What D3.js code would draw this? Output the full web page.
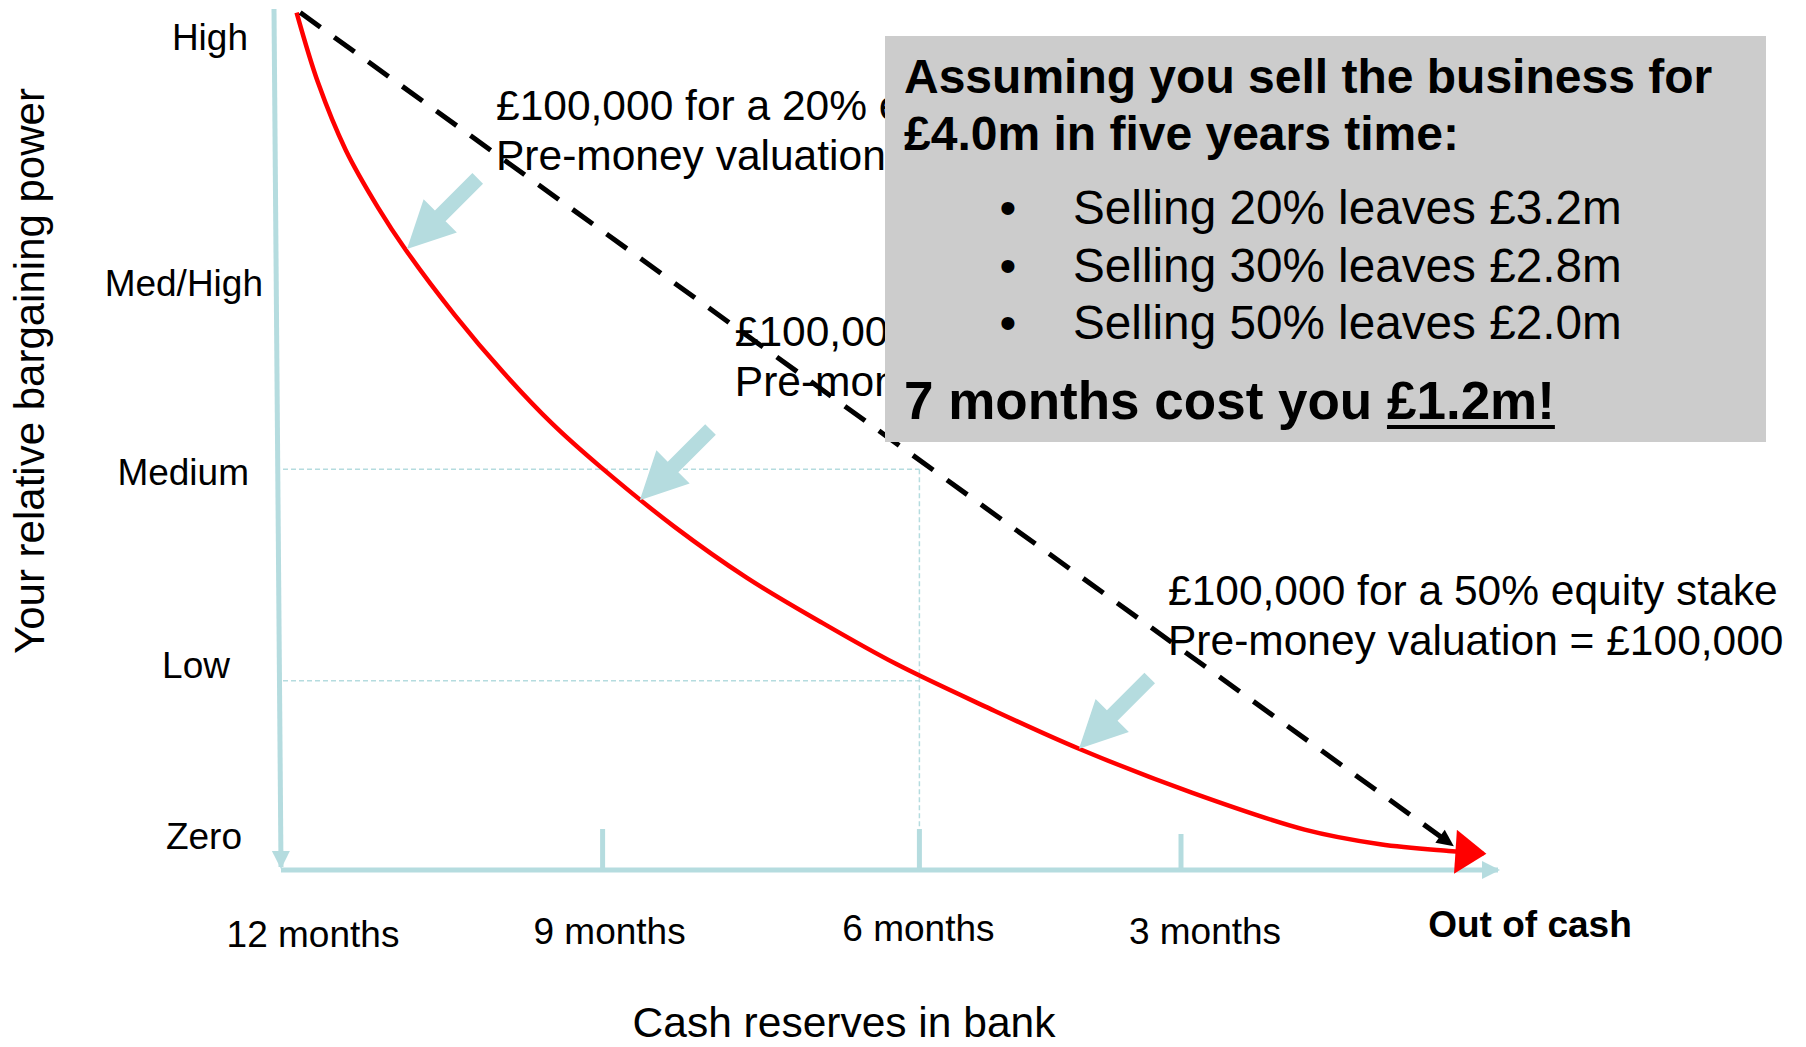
<!DOCTYPE html>
<html lang="en">
<head>
<meta charset="UTF-8">
<title>Bargaining power vs cash reserves</title>
<script src="https://d3js.org/d3.v7.min.js"></script>
<style>
  html, body { margin:0; background:#fff; overflow:hidden; }
  svg { display:block; }
  text { font-family:"Liberation Sans", Arial, sans-serif; fill:#000; }
</style>
</head>
<body>
<svg id="chart" width="1806" height="1047"></svg>
<script>
// y axis: relative bargaining power (0 = zero, 100 = high)
const levels      = ["High", "Med/High", "Medium", "Low", "Zero"];
const levelValues = [96.9, 68.3, 46.3, 23.8, 3.9];
const gridLevels  = [46.6, 22.0];              // dashed guides at Medium and Low

// x axis: cash runway used (0 = 12 months left, 100 = out of cash)
const months   = ["12 months", "9 months", "6 months", "3 months", "Out of cash"];
const monthPos = [0, 26.8, 53.2, 75.0, 100];
const guideAt  = 53.2;                         // 6 months

// red curve, power drops fast as cash runs down
const powerCurve = [
  [1.3, 99.7], [3.1, 91.5], [5.4, 83.7], [8.1, 77.0], [10.4, 72.1],
  [14.5, 64.5], [18.5, 57.9], [22.6, 51.9], [26.6, 46.9], [32.8, 39.9],
  [38.8, 34.0], [44.9, 28.9], [51.2, 24.0], [58.7, 19.0], [66.5, 14.1],
  [75.9, 9.0], [85.3, 4.7], [91.6, 3.0], [97.3, 2.2], [100.2, 1.9]
];
// black dashed, straight line decline
const linearLine = [[1.6, 99.7], [97.6, 2.9]];

// the three offers and where their arrows hit the curve
const dealStakes = ["20%", "30%", "50%"];
const dealPre    = ["£400,000", "£233,333", "£100,000"];
const dealTips   = [[10.5, 72.2], [29.9, 43.0], [66.5, 14.1]];

const boxTitle  = ["Assuming you sell the business for", "£4.0m in five years time:"];
const bullets   = ["Selling 20% leaves £3.2m", "Selling 30% leaves £2.8m", "Selling 50% leaves £2.0m"];
const punchline = ["7 months cost you ", "£1.2m!"];

// layout bits (pixels)
const levelRight = [248, 263, 249, 230, 242];
const monthShift = [32, 7, -1, 24, 49];
const monthBase  = [947, 944, 941, 944, 937];
const dealDx     = [89, 95, 89];
const dealDy     = [-129, -154, -144];
const box        = {x: 885, y: 36, w: 881, h: 406};
const AXIS = "#b5dcdf";

const svg = d3.select("#chart");
const x = d3.scaleLinear().domain([0, 100]).range([281, 1481]);
const y = d3.scaleLinear().domain([0, 100]).range([870, 10]);

const defs = svg.append("defs");
function marker(id, path, refX, color) {
  defs.append("marker")
    .attr("id", id).attr("markerUnits", "userSpaceOnUse")
    .attr("viewBox", "-40 -30 80 60").attr("markerWidth", 80).attr("markerHeight", 60)
    .attr("refX", refX).attr("refY", 0).attr("orient", "auto")
    .append("path").attr("d", path).attr("fill", color);
}
marker("axisHead", "M0,-9L18,0L0,9Z", 16, AXIS);
marker("redHead", "M0,-22L31,0L0,22Z", 28, "#ff0000");
marker("blackHead", "M0,-8L17,0L0,8Z", 15, "#000");

// annotations that run under the grey box get cut at its edge
defs.append("clipPath").attr("id", "leftOfBox")
  .append("rect").attr("x", 0).attr("y", 0).attr("width", box.x).attr("height", 1047);

// axes
svg.append("line")
  .attr("x1", x(0) - 7).attr("y1", 9).attr("x2", x(0)).attr("y2", y(0) - 3)
  .attr("stroke", AXIS).attr("stroke-width", 5).attr("marker-end", "url(#axisHead)");
svg.append("line")
  .attr("x1", x(0)).attr("y1", y(0)).attr("x2", 1498).attr("y2", y(0))
  .attr("stroke", AXIS).attr("stroke-width", 5).attr("marker-end", "url(#axisHead)");

svg.selectAll(".tick")
  .data(monthPos.slice(1, 4))
  .join("line").attr("class", "tick")
  .attr("x1", d => x(d)).attr("x2", d => x(d))
  .attr("y1", y(0)).attr("y2", (d, i) => y(0) - (i === 2 ? 36 : 41))
  .attr("stroke", AXIS).attr("stroke-width", 5);

// dashed guides
svg.selectAll(".grid")
  .data(gridLevels)
  .join("line").attr("class", "grid")
  .attr("x1", x(0) + 2).attr("x2", x(guideAt))
  .attr("y1", d => y(d)).attr("y2", d => y(d))
  .attr("stroke", AXIS).attr("stroke-width", 1.5).attr("stroke-dasharray", "5,3");
svg.append("line")
  .attr("x1", x(guideAt)).attr("x2", x(guideAt))
  .attr("y1", y(gridLevels[0])).attr("y2", y(0) - 41)
  .attr("stroke", AXIS).attr("stroke-width", 1.5).attr("stroke-dasharray", "5,3");

// level labels
svg.selectAll(".lvl")
  .data(levels)
  .join("text").attr("class", "lvl")
  .attr("x", (d, i) => levelRight[i])
  .attr("y", (d, i) => y(levelValues[i]) + 13)
  .attr("text-anchor", "end")
  .style("font-size", "37px")
  .text(d => d);

// month labels
svg.selectAll(".mon")
  .data(months)
  .join("text").attr("class", "mon")
  .attr("x", (d, i) => x(monthPos[i]) + monthShift[i])
  .attr("y", (d, i) => monthBase[i])
  .attr("text-anchor", "middle")
  .style("font-size", "37px")
  .style("font-weight", (d, i) => i === 4 ? "bold" : "normal")
  .text(d => d);

// axis titles
svg.append("text")
  .attr("transform", "translate(44,371) rotate(-90)")
  .attr("text-anchor", "middle")
  .style("font-size", "42px")
  .text("Your relative bargaining power");
svg.append("text")
  .attr("x", 844).attr("y", 1037)
  .attr("text-anchor", "middle")
  .style("font-size", "42.5px")
  .text("Cash reserves in bank");

// offer annotations
const notes = svg.append("g").attr("clip-path", "url(#leftOfBox)")
  .selectAll(".note")
  .data(dealTips)
  .join("text").attr("class", "note")
  .attr("x", (d, i) => x(d[0]) + dealDx[i])
  .attr("y", (d, i) => y(d[1]) + dealDy[i])
  .style("font-size", "42.5px");
notes.append("tspan").text((d, i) => `£100,000 for a ${dealStakes[i]} equity stake`);
notes.append("tspan")
  .attr("x", (d, i) => x(d[0]) + dealDx[i]).attr("dy", 50)
  .text((d, i) => `Pre-money valuation = ${dealPre[i]}`);
// the last one sits right of the box, so let it show in full
notes.filter((d, i) => i === 2).each(function () {
  svg.node().appendChild(this);
});

// curves
svg.append("path")
  .datum(powerCurve)
  .attr("d", d3.line().x(d => x(d[0])).y(d => y(d[1])).curve(d3.curveCatmullRom.alpha(0.5)))
  .attr("fill", "none").attr("stroke", "#ff0000").attr("stroke-width", 4.5)
  .attr("marker-end", "url(#redHead)");

svg.append("path")
  .datum(linearLine)
  .attr("d", d3.line().x(d => x(d[0])).y(d => y(d[1])))
  .attr("fill", "none").attr("stroke", "#000").attr("stroke-width", 5)
  .attr("stroke-dasharray", "25,17")
  .attr("marker-end", "url(#blackHead)");

// light blue block arrows pointing at the curve
const blockArrow = "M0,0L-47,-23.5L-47,-7.5L-100,-7.5L-100,7.5L-47,7.5L-47,23.5Z";
svg.selectAll(".pointer")
  .data(dealTips)
  .join("path").attr("class", "pointer")
  .attr("d", blockArrow)
  .attr("transform", d => `translate(${x(d[0])},${y(d[1])}) rotate(135)`)
  .attr("fill", AXIS);

// grey summary box
const panel = svg.append("g");
panel.append("rect")
  .attr("x", box.x).attr("y", box.y).attr("width", box.w).attr("height", box.h)
  .attr("fill", "#cccccc");

panel.selectAll(".btitle")
  .data(boxTitle)
  .join("text").attr("class", "btitle")
  .attr("x", 904).attr("y", (d, i) => 93 + i * 57)
  .style("font-size", "48px").style("font-weight", "bold")
  .text(d => d);

const rows = panel.selectAll(".bullet")
  .data(bullets)
  .join("g").attr("class", "bullet")
  .attr("transform", (d, i) => `translate(0,${224 + i * 57.5})`);
rows.append("text").attr("x", 1008).attr("text-anchor", "middle")
  .style("font-size", "48px").text("•");
rows.append("text").attr("x", 1073)
  .style("font-size", "47.7px").text(d => d);

const last = panel.append("text")
  .attr("x", 904).attr("y", 419)
  .style("font-size", "53px").style("font-weight", "bold");
const lead = last.append("tspan").text(punchline[0]);
const cost = last.append("tspan").text(punchline[1]);
const ux = 904 + lead.node().getComputedTextLength();
panel.append("rect")
  .attr("x", ux).attr("y", 425)
  .attr("width", cost.node().getComputedTextLength()).attr("height", 4)
  .attr("fill", "#000");
</script>
</body>
</html>
